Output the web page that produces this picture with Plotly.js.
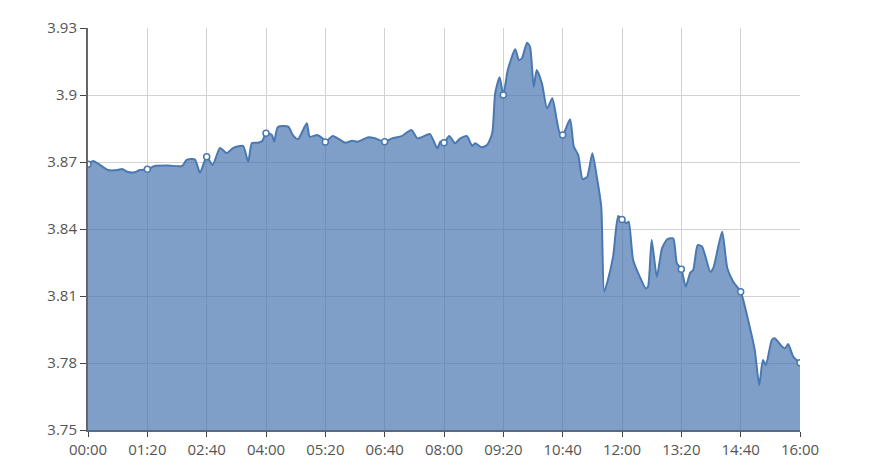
<!DOCTYPE html>
<html>
<head>
<meta charset="utf-8">
<script src="https://cdn.plot.ly/plotly-3.0.1.min.js"></script>
<style>html,body{margin:0;padding:0;background:#fff;}#chart{width:880px;height:462px;}</style>
</head>
<body>
<div id="chart"></div>
<script>
// minutes since 00:00
var minutes = [0,7,16,27,40,46,54,63,70,80,90,108,127,133,144,151,160,168,178,187,196,209,216,221,229,235,240,248,251,256,270,276,283,295,299,309,316,320,330,340,347,356,364,378,387,400,410,423,436,444,450,461,471,475,480,487,495,502,511,518,522,531,538,545,549,555,560,566,576,581,585,592,596,601,605,612,619,626,632,636,640,650,655,661,667,673,680,686,692,696,701,708,715,720,726,729,735,744,752,755,760,767,774,781,789,794,800,806,812,816,822,828,839,843,855,862,870,880,890,899,905,910,914,922,926,936,940,944,951,960];
var prices = [3.869,3.8704,3.8687,3.8664,3.8664,3.8669,3.8655,3.8654,3.8664,3.8667,3.8682,3.8684,3.8682,3.8709,3.8712,3.8652,3.8724,3.8687,3.8763,3.8740,3.8763,3.8772,3.8701,3.8785,3.8786,3.8794,3.8829,3.8821,3.8791,3.8857,3.8858,3.8821,3.8802,3.8873,3.8813,3.8821,3.8806,3.879,3.8816,3.8799,3.8786,3.8795,3.8791,3.8811,3.8806,3.8791,3.8806,3.8816,3.8843,3.8806,3.8811,3.8825,3.8761,3.8791,3.8786,3.8816,3.8784,3.8806,3.8816,3.8772,3.8784,3.8766,3.8776,3.8829,3.9008,3.9079,3.900,3.9112,3.9205,3.9157,3.9164,3.9234,3.9216,3.9037,3.9112,3.9052,3.8940,3.8985,3.8888,3.8829,3.8821,3.8891,3.8769,3.8731,3.8623,3.8634,3.8739,3.8634,3.8500,3.8119,3.8172,3.8276,3.8458,3.8443,3.8426,3.8433,3.8261,3.8186,3.8134,3.8141,3.8351,3.8186,3.8314,3.8354,3.8358,3.8246,3.822,3.8142,3.8204,3.8216,3.8328,3.8321,3.8209,3.8224,3.8388,3.8224,3.8164,3.8119,3.7993,3.7858,3.7701,3.7813,3.7791,3.7903,3.7911,3.7873,3.7866,3.7885,3.7828,3.7801];
// highlighted points at each tick
var markerMinutes = [0,80,160,240,320,400,480,560,640,720,800,880,960];
var markerPrices = [3.869,3.8667,3.8724,3.8829,3.879,3.8791,3.8786,3.900,3.8821,3.8443,3.822,3.8119,3.7801];
var xTickVals = [0,80,160,240,320,400,480,560,640,720,800,880,960];
var xTickText = ['00:00','01:20','02:40','04:00','05:20','06:40','08:00','09:20','10:40','12:00','13:20','14:40','16:00'];
var yTickVals = [3.75,3.78,3.81,3.84,3.87,3.90,3.93];
var yTickText = ['3.75','3.78','3.81','3.84','3.87','3.9','3.93'];

var lineColor = '#4a78b0';
var traces = [
  {x: minutes, y: prices, type: 'scatter', mode: 'lines',
   line: {color: lineColor, width: 2, shape: 'spline', smoothing: 0.6},
   fill: 'tozeroy', fillcolor: 'rgba(66,114,176,0.68)', hoverinfo: 'x+y'},
  {x: markerMinutes, y: markerPrices, type: 'scatter', mode: 'markers',
   marker: {color: '#ffffff', size: 6, line: {color: lineColor, width: 1.5}}}
];
var layout = {
  width: 880, height: 462,
  margin: {l: 88, r: 80, t: 28, b: 32},
  paper_bgcolor: '#ffffff', plot_bgcolor: '#ffffff',
  showlegend: false,
  font: {family: 'Open Sans, Noto Sans, sans-serif', size: 15, color: '#555'},
  xaxis: {range: [0, 960], tickvals: xTickVals, ticktext: xTickText,
    showgrid: true, gridcolor: '#d2d2d2', gridwidth: 1,
    showline: true, linecolor: '#5a6a80', linewidth: 1.5,
    ticks: 'outside', ticklen: 5, tickcolor: '#444', zeroline: false,
    tickfont: {size: 15, color: '#555'}, fixedrange: true},
  yaxis: {range: [3.75, 3.93], tickvals: yTickVals, ticktext: yTickText,
    showgrid: true, gridcolor: '#d2d2d2', gridwidth: 1,
    showline: true, linecolor: '#666', linewidth: 2,
    ticks: 'outside', ticklen: 6, tickcolor: '#444', zeroline: false,
    tickfont: {size: 15, color: '#555'}, fixedrange: true}
};
Plotly.newPlot('chart', traces, layout, {displayModeBar: false, staticPlot: true});
</script>
</body>
</html>
